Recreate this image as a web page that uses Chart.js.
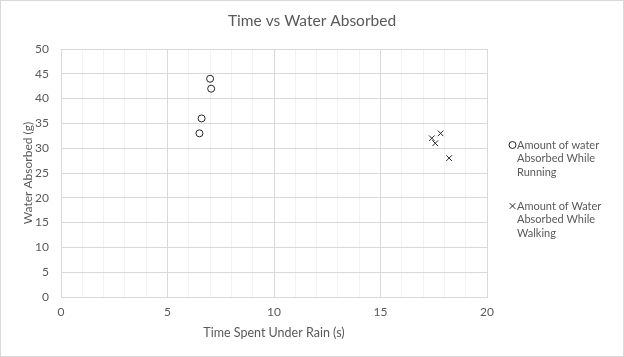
<!DOCTYPE html>
<html><head><meta charset="utf-8">
<script src="https://cdn.jsdelivr.net/npm/chart.js@4"></script>
<style>html,body{margin:0;padding:0;background:#fff}#c{display:block}</style>
</head><body>
<canvas id="c" width="624" height="357"></canvas>
<script>
const titleText = 'Time vs Water Absorbed';
const xTitle = 'Time Spent Under Rain (s)';
const yTitle = 'Water Absorbed (g)';
const runningLabel = ['Amount of water', 'Absorbed While', 'Running'];
const walkingLabel = ['Amount of Water', 'Absorbed While', 'Walking'];
const runningX = [7.0, 7.05, 6.6, 6.5];
const runningY = [44, 42, 36, 33];
const walkingX = [17.82, 17.41, 17.57, 18.22];
const walkingY = [33, 32, 31, 28];

const FONT = 'Lato, "Open Sans", sans-serif';
const GRAY = '#595959';

const decorPlugin = {
  id: 'decor',
  afterDraw(chart) {
    const ctx = chart.ctx;
    ctx.save();
    // chart border
    ctx.strokeStyle = '#d9d9d9';
    ctx.lineWidth = 1;
    ctx.strokeRect(0.5, 0.5, 623, 356);
    // title
    ctx.fillStyle = GRAY;
    ctx.font = '15.5px ' + FONT;
    ctx.textAlign = 'center';
    ctx.textBaseline = 'middle';
    ctx.fillText(titleText, 312, 21);
    // legend
    const items = [
      {lines: runningLabel, style: 'circle', r: 3.5, y: 145},
      {lines: walkingLabel, style: 'crossRot', r: 4, y: 206}
    ];
    ctx.font = '11px ' + FONT;
    ctx.textAlign = 'left';
    items.forEach(it => {
      ctx.strokeStyle = '#262626';
      ctx.fillStyle = 'rgba(0,0,0,0)';
      ctx.lineWidth = 1;
      Chart.helpers.drawPoint(ctx, {pointStyle: it.style, radius: it.r, borderWidth: 1}, 512.5, it.y);
      ctx.fillStyle = GRAY;
      it.lines.forEach((l, i) => ctx.fillText(l, 517, it.y + i * 13.8));
    });
    ctx.restore();
  }
};

const data = {
  datasets: [
    {label: runningLabel.join(' '), data: runningX.map((x, i) => ({x, y: runningY[i]})),
     pointStyle: 'circle', pointRadius: 3.5, pointBorderWidth: 1, borderColor: '#262626', backgroundColor: 'rgba(0,0,0,0)', showLine: false},
    {label: walkingLabel.join(' '), data: walkingX.map((x, i) => ({x, y: walkingY[i]})),
     pointStyle: 'crossRot', pointRadius: 4, pointBorderWidth: 1, borderColor: '#262626', backgroundColor: 'rgba(0,0,0,0)', showLine: false}
  ]
};

new Chart(document.getElementById('c'), {
  type: 'scatter',
  data,
  plugins: [decorPlugin],
  options: {
    responsive: false,
    animation: false,
    layout: {padding: {top: 49, left: 0, right: 137, bottom: 0}},
    plugins: {
      legend: {display: false},
      tooltip: {enabled: false},
      title: {display: false}
    },
    scales: {
      x: {
        type: 'linear', min: 0, max: 20,
        afterFit(s){ s.height = 60; },
        grid: {drawTicks: false, color: c => (c.tick && c.tick.value % 5 === 0) ? '#d9d9d9' : '#f2f2f2'},
        border: {color: '#d9d9d9'},
        ticks: {stepSize: 1, autoSkip: false, maxRotation: 0, padding: 8, color: GRAY, font: {family: FONT, size: 12},
          callback: v => (v % 5 === 0 ? String(v) : '')},
        title: {display: true, text: xTitle, color: GRAY, font: {family: FONT, size: 12.5}, padding: {top: 0, bottom: 17}}
      },
      y: {
        type: 'linear', min: 0, max: 50,
        afterFit(s){ s.width = 61; },
        grid: {drawTicks: false, color: '#d9d9d9'},
        border: {color: '#d9d9d9'},
        ticks: {stepSize: 5, padding: 12, color: GRAY, font: {family: FONT, size: 12}},
        title: {display: true, text: yTitle, color: GRAY, font: {family: FONT, size: 12}, padding: {top: 21, bottom: 0}}
      }
    }
  }
});
</script>
</body></html>
